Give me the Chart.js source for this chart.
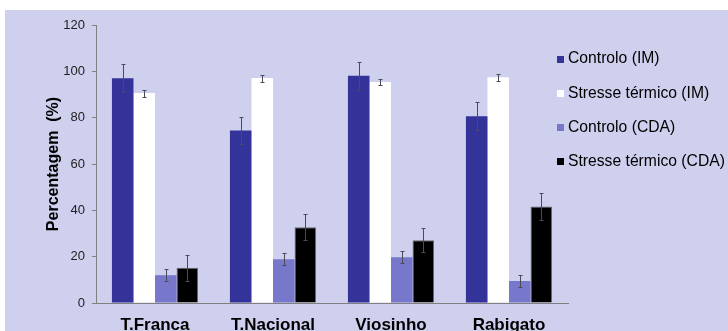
<!DOCTYPE html>
<html>
<head>
<meta charset="utf-8">
<script src="https://cdn.jsdelivr.net/npm/chart.js@4/dist/chart.umd.min.js"></script>
<style>
  html, body { margin: 0; padding: 0; background: #fff; overflow: hidden; }
  #wrap { width: 728px; height: 331px; }
</style>
</head>
<body>
<div id="wrap"><canvas id="chart" width="728" height="331"></canvas></div>
<script>
// data
const categories = ["T.Franca", "T.Nacional", "Viosinho", "Rabigato"];
const seriesNames = ["Controlo (IM)", "Stresse térmico (IM)", "Controlo (CDA)", "Stresse térmico (CDA)"];

const controloIM = [97, 74.5, 98.1, 80.6];
const stresseIM = [90.6, 97.1, 95.4, 97.4];
const controloCDA = [12, 18.9, 19.7, 9.5];
const stresseCDA = [15.2, 32.7, 27.1, 41.7];

const errControloIM = [6, 6, 6, 6];
const errStresseIM = [1.5, 1.5, 1.4, 1.4];
const errControloCDA = [2.7, 2.6, 2.6, 2.6];
const errStresseCDA = [5.5, 5.6, 5.3, 5.8];

const yTicks = [0, 20, 40, 60, 80, 100, 120];

const FONT = "'Liberation Sans', Arial, sans-serif";
const colors = ["#333399", "#ffffff", "#7777cc", "#000000"];

// lavender panel behind everything
const background = {
  id: "background",
  beforeDraw(chart) {
    const { ctx, width, height } = chart;
    ctx.save();
    ctx.fillStyle = "#ffffff";
    ctx.fillRect(0, 0, width, height);
    ctx.fillStyle = "#cfcfee";
    ctx.fillRect(5, 10, width - 5, height - 10);
    ctx.restore();
  },
};

const errorBars = {
  id: "errorBars",
  afterDatasetsDraw(chart) {
    const { ctx } = chart;
    const y = chart.scales.y;
    ctx.save();
    ctx.strokeStyle = "#4a4a5a";
    ctx.lineWidth = 1;
    chart.data.datasets.forEach((ds, i) => {
      const meta = chart.getDatasetMeta(i);
      meta.data.forEach((bar, j) => {
        const v = ds.data[j];
        const e = ds.errors[j];
        const x = Math.round(bar.x) + 0.5;
        const top = Math.round(y.getPixelForValue(v + e)) + 0.5;
        const bot = Math.round(y.getPixelForValue(v - e)) + 0.5;
        ctx.beginPath();
        ctx.moveTo(x, top);
        ctx.lineTo(x, bot);
        ctx.moveTo(x - 2, top);
        ctx.lineTo(x + 2, top);
        ctx.moveTo(x - 2, bot);
        ctx.lineTo(x + 2, bot);
        ctx.stroke();
      });
    });
    ctx.restore();
  },
};

const sideLegend = {
  id: "sideLegend",
  afterDraw(chart) {
    const { ctx } = chart;
    ctx.save();
    ctx.font = "15.7px " + FONT;
    ctx.textBaseline = "middle";
    chart.data.datasets.forEach((ds, i) => {
      const cy = 59 + i * 34.2;
      ctx.fillStyle = ds.backgroundColor;
      ctx.fillRect(557, Math.round(cy - 3.5), 7, 7);
      ctx.fillStyle = "#000";
      ctx.fillText(ds.label, 568, cy);
    });
    ctx.restore();
  },
};

const values = [controloIM, stresseIM, controloCDA, stresseCDA];
const errors = [errControloIM, errStresseIM, errControloCDA, errStresseCDA];

const datasets = seriesNames.map((name, i) => ({
  label: name,
  data: values[i],
  errors: errors[i],
  backgroundColor: colors[i],
  borderColor: i === 3 ? "#6a6a6a" : colors[i],
  borderWidth: i === 3 ? 1 : 0,
  categoryPercentage: 0.73,
  barPercentage: 1.0,
}));

new Chart(document.getElementById("chart"), {
  type: "bar",
  data: { labels: categories, datasets: datasets },
  options: {
    responsive: false,
    devicePixelRatio: 1,
    animation: false,
    layout: { padding: { left: 0, right: 160, top: 25, bottom: 0 } },
    plugins: {
      legend: { display: false },
      tooltip: { enabled: false },
    },
    scales: {
      x: {
        grid: { display: false },
        border: { display: true, color: "#808080", width: 1 },
        ticks: {
          font: { family: FONT, size: 17, weight: "bold" },
          color: "#000",
          padding: 4,
        },
        afterFit(scale) {
          scale.height = 28;
        },
      },
      y: {
        min: 0,
        max: 120,
        afterBuildTicks(scale) {
          scale.ticks = yTicks.map((v) => ({ value: v }));
        },
        grid: { drawOnChartArea: false, drawTicks: true, tickLength: 4, color: "#808080" },
        border: { display: true, color: "#808080", width: 1 },
        ticks: {
          font: { family: FONT, size: 13 },
          color: "#222",
          padding: 7,
        },
        title: {
          display: true,
          text: "Percentagem  (%)",
          font: { family: FONT, size: 16, weight: "bold" },
          color: "#000",
          padding: { top: 44, bottom: 0 },
        },
        afterFit(scale) {
          scale.width = 96;
        },
      },
    },
  },
  plugins: [background, errorBars, sideLegend],
});
</script>
</body>
</html>
